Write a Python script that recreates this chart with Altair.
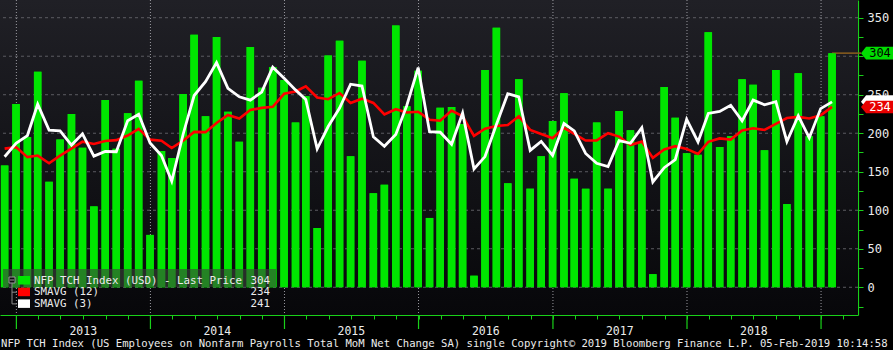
import altair as alt
import pandas as pd

# ---------------- data ----------------
nfp = [158, 238, 195, 280, 137, 192, 225, 181, 105, 243,
       180, 226, 268, 68, 177, 168, 251, 328, 222, 325,
       228, 189, 312, 259, 286, 269, 214, 248, 77, 301,
       320, 170, 294, 122, 133, 340, 235, 281, 90, 233,
       234, 212, 15, 282, 337, 135, 270, 128, 170, 216,
       252, 141, 128, 214, 128, 229, 204, 189, 17, 260,
       220, 174, 172, 331, 182, 196, 270, 263, 178, 282,
       108, 278, 196, 222, 304]

sma12 = [180, 182, 169, 171, 161, 171, 180, 189, 186, 190,
         191, 197, 205.8, 191.7, 190.2, 180.8, 190.3, 201.7, 201.4, 213.4,
         223.7, 219.2, 230.2, 232.9, 234.4, 251.2, 254.3, 260.9, 246.4, 244.2,
         252.3, 239.4, 244.9, 239.3, 224.4, 231.2, 226.9, 227.9, 217.6, 216.3,
         229.4, 222.0, 196.6, 205.9, 209.5, 210.6, 222.0, 204.3, 198.9, 193.5,
         207.0, 199.3, 190.5, 190.7, 200.1, 195.7, 184.6, 189.1, 168.0, 179.0,
         183.2, 179.7, 173.0, 188.8, 193.3, 191.8, 203.7, 206.5, 204.3, 212.1,
         219.7, 221.2, 219.2, 223.2, 234.2]

sma3 = [169.5, 187, 197, 237.7, 204, 203, 184.7, 199.3, 170.3, 176.3,
        176, 216.3, 224.7, 187.3, 171, 137.7, 198.7, 249, 267, 291.7,
        258.3, 247.3, 243, 253.3, 285.7, 271.3, 256.3, 243.7, 179.7, 208.7,
        232.7, 263.7, 261.3, 195.3, 183, 198.3, 236, 285.3, 202, 201.3,
        185.7, 226.3, 153.7, 169.7, 211.3, 251.3, 247.3, 177.7, 189.3, 171.3,
        212.7, 203, 173.7, 161, 156.7, 190.3, 187, 207.3, 136.7, 155.3,
        165.7, 218, 188.7, 225.7, 228.3, 236.3, 216, 243, 237, 241,
        189.3, 222.7, 194, 232, 240.7]

year_labels = ["2013", "2014", "2015", "2016", "2017", "2018"]
year_starts = ["2013-01-01", "2014-01-01", "2015-01-01", "2016-01-01",
               "2017-01-01", "2018-01-01", "2019-01-01"]
year_mids = ["2013-07-02", "2014-07-02", "2015-07-02", "2016-07-02",
             "2017-07-02", "2018-07-02"]
grid_vals = [0, 50, 100, 150, 200, 250, 300, 350]

legend_names = ["NFP TCH Index (USD) - Last Price", "SMAVG (12)", "SMAVG (3)"]
legend_vals = ["304", "234", "241"]
legend_colors = ["#00e600", "#ff0000", "#ffffff"]

# value tags on the right axis (white one sits under the red one, its text hidden)
tag_vals = [241, 234, 304]
tag_text = ["", "234", "304"]
tag_fill = ["#ffffff", "#e80000", "#00dd00"]
tag_ink = ["#000000", "#ffffff", "#000000"]

footer = ("NFP TCH Index (US Employees on Nonfarm Payrolls Total MoM Net Change SA) "
          "single Copyright\u00a9 2019 Bloomberg Finance L.P. 05-Feb-2019 10:14:58")

months = [p.end_time.strftime("%Y-%m-%d")
          for p in pd.period_range("2012-11", "2019-01", freq="M")]
df = pd.DataFrame({"date": months, "nfp": nfp, "sma12": sma12, "sma3": sma3})

# ---------------- styling ----------------
W, H = 858, 315
GREEN = "#19d019"
FONT = "DejaVu Sans Mono"
TXT = "#ececec"

xscale = alt.Scale(type="utc", domain=[
    alt.DateTime(year=2012, month=12, date=1, utc=True),
    alt.DateTime(year=2019, month=3, date=29, utc=True)])
yscale = alt.Scale(domain=[-36, 373], nice=False, zero=False)

tick_dates = [alt.DateTime(year=y, month=m, date=1, utc=True)
              for y in range(2013, 2020) for m in (1, 3, 5, 7, 9, 11)
              if (y, m) <= (2019, 3)]

X_AX = alt.Axis(values=tick_dates, labels=False, grid=False,
                domainColor=GREEN, tickColor=GREEN, tickSize=4,
                domainWidth=1.2, title=None)
# the 300 label sits fully behind the last-price tag in the reference
Y_AX = alt.Axis(orient="right", values=list(range(-25, 375, 25)),
                labelExpr="datum.value >= 0 && datum.value % 50 == 0 && datum.value != 300 ? datum.label : ''",
                grid=False, domainColor=GREEN, tickColor=GREEN,
                tickSize=5, domainWidth=1.2, labelColor=TXT,
                labelFont=FONT, labelFontSize=12, labelPadding=4, title=None)


def X(field):
    return alt.X(field, scale=xscale, axis=X_AX, title=None)


def Y(field):
    return alt.Y(field, scale=yscale, axis=Y_AX, title=None)


one = alt.Data(values=[{}])
layers = []

# background gradient of plot area
layers.append(
    alt.Chart(one).mark_rect(
        color=alt.Gradient(gradient="linear",
                           stops=[alt.GradientStop(color="#202026", offset=0),
                                  alt.GradientStop(color="#07070a", offset=1)],
                           x1=0, x2=0, y1=0, y2=1)
    ).encode(x=alt.value(0), x2=alt.value(W), y=alt.value(0), y2=alt.value(H))
)

# bars (carry both axes)
layers.append(
    alt.Chart(df).mark_bar(width=7.5, color="#00e600").encode(
        x=X("date:T"), y=Y("nfp:Q"), y2=alt.datum(0))
)

# horizontal grid
layers.append(
    alt.Chart(alt.Data(values=[{"g": v} for v in grid_vals])).mark_rule(
        color="#5c5c62", strokeDash=[3, 3], strokeWidth=1
    ).encode(y=Y("g:Q"))
)

# vertical year grid
layers.append(
    alt.Chart(alt.Data(values=[{"date": d} for d in year_starts])).mark_rule(
        color="#9a9aa0", strokeDash=[1, 2], strokeWidth=1
    ).encode(x=X("date:T"))
)

# last price line
layers.append(
    alt.Chart(alt.Data(values=[{"date": months[-1], "v": nfp[-1]}])).mark_rule(
        color="#8b5e1e", strokeWidth=1.5
    ).encode(x=X("date:T"), x2=alt.value(861), y=Y("v:Q"))
)

# bars again on top of the grid
layers.append(
    alt.Chart(df).mark_bar(width=7.5, color="#00e600").encode(
        x=X("date:T"), y=Y("nfp:Q"), y2=alt.datum(0))
)

# moving averages
layers.append(
    alt.Chart(df).mark_line(color="#ff0000", strokeWidth=2.6).encode(
        x=X("date:T"), y=Y("sma12:Q"))
)
layers.append(
    alt.Chart(df).mark_line(color="#ffffff", strokeWidth=2.8).encode(
        x=X("date:T"), y=Y("sma3:Q"))
)

# legend panel
layers.append(
    alt.Chart(one).mark_rect(color="#3a443a", opacity=0.62).encode(
        x=alt.value(3), x2=alt.value(276), y=alt.value(269), y2=alt.value(287))
)
# tree glyph
layers.append(
    alt.Chart(one).mark_rect(fill="#101010", stroke="#9a9a9a", strokeWidth=1).encode(
        x=alt.value(9), x2=alt.value(15), y=alt.value(277), y2=alt.value(283))
)
layers.append(
    alt.Chart(one).mark_rule(color="#9a9a9a").encode(
        x=alt.value(10), x2=alt.value(14), y=alt.value(280))
)
layers.append(
    alt.Chart(one).mark_rule(color="#8a8a8a").encode(
        x=alt.value(12), y=alt.value(283), y2=alt.value(303.9))
)
for yy in (292.2, 303.9):
    layers.append(
        alt.Chart(one).mark_rule(color="#8a8a8a").encode(
            x=alt.value(12), x2=alt.value(17), y=alt.value(yy))
    )

row_y = [280.5, 292.2, 303.9]
for i in range(3):
    layers.append(
        alt.Chart(one).mark_rect(color=legend_colors[i]).encode(
            x=alt.value(18), x2=alt.value(30),
            y=alt.value(row_y[i] - 4.5), y2=alt.value(row_y[i] + 4))
    )
    layers.append(
        alt.Chart(alt.Data(values=[{"t": legend_names[i]}])).mark_text(
            font=FONT, fontSize=10.8, color=TXT, align="left", baseline="middle"
        ).encode(x=alt.value(34), y=alt.value(row_y[i]), text="t:N")
    )
    layers.append(
        alt.Chart(alt.Data(values=[{"t": legend_vals[i]}])).mark_text(
            font=FONT, fontSize=10.8, color=TXT, align="right", baseline="middle"
        ).encode(x=alt.value(270), y=alt.value(row_y[i]), text="t:N")
    )

# right-hand value tags
TAG = "M-1,0L-0.7,-0.37L1,-0.37L1,0.37L-0.7,0.37Z"
for i in range(3):
    d = alt.Data(values=[{"v": tag_vals[i], "t": tag_text[i]}])
    layers.append(
        alt.Chart(d).mark_point(shape=TAG, filled=True, size=1156, opacity=1,
                                color=tag_fill[i], strokeWidth=0).encode(
            x=alt.value(878), y=Y("v:Q"))
    )
    if tag_text[i]:
        layers.append(
            alt.Chart(d).mark_text(font=FONT, fontSize=12, color=tag_ink[i],
                                   align="center", baseline="middle").encode(
                x=alt.value(880), y=Y("v:Q"), text="t:N")
        )

# year ticks and labels below the axis
layers.append(
    alt.Chart(alt.Data(values=[{"date": d} for d in year_starts])).mark_rule(
        color=GREEN, strokeWidth=1.2
    ).encode(x=X("date:T"), y=alt.value(H), y2=alt.value(329))
)
layers.append(
    alt.Chart(alt.Data(values=[{"date": d, "t": t} for d, t in zip(year_mids, year_labels)])).mark_text(
        font=FONT, fontSize=11.5, color=TXT, align="center", baseline="middle"
    ).encode(x=X("date:T"), y=alt.value(332), text="t:N")
)

# footer
layers.append(
    alt.Chart(alt.Data(values=[{"t": footer}])).mark_text(
        font=FONT, fontSize=10.6, color=TXT, align="left", baseline="middle"
    ).encode(x=alt.value(1), y=alt.value(344), text="t:N")
)

chart = alt.layer(*layers).properties(
    width=W, height=H,
    autosize=alt.AutoSizeParams(type="none"),
    padding={"left": 0, "top": 0, "right": 35, "bottom": 35},
    background="#000000",
).configure_view(stroke=None)

chart.save("out.html", embed_options={"renderer": "svg", "actions": False})
